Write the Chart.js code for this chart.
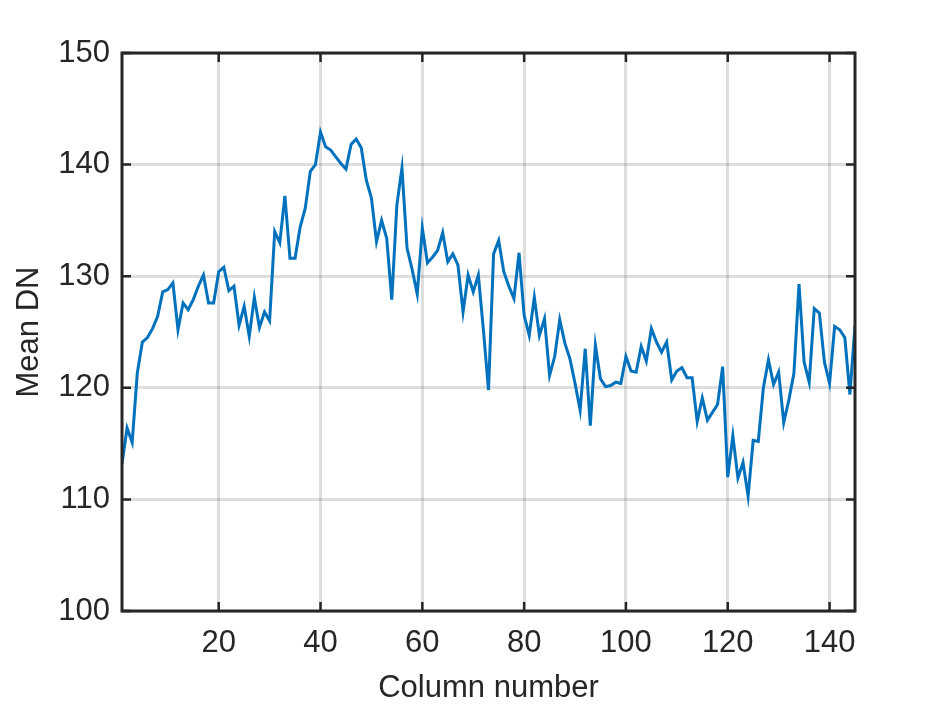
<!DOCTYPE html>
<html>
<head>
<meta charset="utf-8">
<script src="https://cdn.jsdelivr.net/npm/chart.js@4.4.1/dist/chart.umd.min.js"></script>
<style>
  body { margin: 0; background: #fff; }
  #wrap { width: 945px; height: 708px; }
</style>
</head>
<body>
<div id="wrap"><canvas id="myChart" width="945" height="708"></canvas></div>
<script>
"use strict";

// mean DN per column
const meanDN = [
  113.2, 116.4, 115.1, 121.3, 124.1, 124.5, 125.3, 126.4, 128.6, 128.8,
  129.4, 125.2, 127.6, 127.0, 127.9, 129.1, 130.1, 127.6, 127.6, 130.4,
  130.8, 128.7, 129.1, 125.6, 127.3, 124.6, 128.1, 125.4, 126.8, 126.0,
  134.0, 133.0, 137.2, 131.6, 131.6, 134.4, 136.1, 139.4, 140.0, 142.9,
  141.6, 141.3, 140.7, 140.1, 139.6, 141.8, 142.3, 141.5, 138.6, 137.0,
  133.1, 135.0, 133.4, 127.9, 136.4, 139.7, 132.5, 130.6, 128.4, 134.3,
  131.2, 131.7, 132.3, 133.9, 131.3, 132.0, 131.0, 126.8, 130.1, 128.6,
  130.1, 125.2, 119.8, 132.0, 133.2, 130.4, 129.1, 128.0, 132.1, 126.5,
  124.7, 128.1, 124.7, 126.2, 121.1, 122.8, 126.1, 124.0, 122.6, 120.4,
  118.0, 123.5, 116.6, 123.8, 120.8, 120.1, 120.2, 120.5, 120.4, 122.8,
  121.5, 121.4, 123.7, 122.4, 125.3, 124.1, 123.2, 124.1, 120.7, 121.5,
  121.8, 120.9, 120.9, 117.0, 119.1, 117.1, 117.8, 118.5, 121.9, 112.0,
  115.7, 111.9, 113.3, 110.3, 115.3, 115.2, 120.0, 122.5, 120.3, 121.4,
  116.9, 118.9, 121.3, 129.3, 122.3, 120.5, 127.1, 126.7, 122.3, 120.4,
  125.5, 125.2, 124.5, 119.4, 125.6
];
const columns = meanDN.map((v, i) => i + 1);

const xTicks = [20, 40, 60, 80, 100, 120, 140];
const yTicks = [100, 110, 120, 130, 140, 150];

const textColor = "#262626";
const fontFamily = "'Liberation Sans', Arial, Helvetica, sans-serif";

// matlab style box with inward ticks on all four sides
const boxAxes = {
  id: "boxAxes",
  afterDraw(chart) {
    const { ctx, chartArea: a, scales } = chart;
    const len = 9;
    ctx.save();
    ctx.strokeStyle = textColor;
    ctx.lineWidth = 2.5;
    ctx.beginPath();
    xTicks.forEach((t) => {
      const px = scales.x.getPixelForValue(t);
      ctx.moveTo(px, a.bottom); ctx.lineTo(px, a.bottom - len);
      ctx.moveTo(px, a.top); ctx.lineTo(px, a.top + len);
    });
    yTicks.forEach((t) => {
      const py = scales.y.getPixelForValue(t);
      ctx.moveTo(a.left, py); ctx.lineTo(a.left + len, py);
      ctx.moveTo(a.right, py); ctx.lineTo(a.right - len, py);
    });
    ctx.stroke();
    ctx.lineWidth = 3;
    ctx.strokeRect(a.left, a.top, a.right - a.left, a.bottom - a.top);
    ctx.restore();
  },
};

const ctx = document.getElementById("myChart").getContext("2d");
const myChart = new Chart(ctx, {
  type: "line",
  data: {
    datasets: [
      {
        data: columns.map((c, i) => ({ x: c, y: meanDN[i] })),
        borderColor: "#0072BD",
        borderWidth: 3,
        pointRadius: 0,
        tension: 0,
        fill: false,
      },
    ],
  },
  options: {
    responsive: false,
    animation: false,
    layout: { padding: { top: 53, right: 90, bottom: 0, left: 0 } },
    plugins: {
      legend: { display: false },
      tooltip: { enabled: false },
    },
    scales: {
      x: {
        type: "linear",
        min: 1,
        max: 145,
        afterBuildTicks: (s) => { s.ticks = xTicks.map((v) => ({ value: v })); },
        afterFit: (s) => { s.height = 97; },
        grid: { color: "rgba(0,0,0,0.13)", lineWidth: 3, drawTicks: false },
        border: { display: false },
        ticks: {
          color: textColor,
          padding: 14,
          maxRotation: 0,
          font: { family: fontFamily, size: 31 },
        },
        title: {
          display: true,
          text: "Column number",
          color: textColor,
          padding: { top: 0, bottom: 1 },
          font: { family: fontFamily, size: 31 },
        },
      },
      y: {
        min: 100,
        max: 150,
        afterBuildTicks: (s) => { s.ticks = yTicks.map((v) => ({ value: v })); },
        afterFit: (s) => { s.width = 122; },
        grid: { color: "rgba(0,0,0,0.13)", lineWidth: 3, drawTicks: false },
        border: { display: false },
        ticks: {
          color: textColor,
          padding: 12,
          font: { family: fontFamily, size: 31 },
        },
        title: {
          display: true,
          text: "Mean DN",
          color: textColor,
          padding: { top: 11, bottom: 0 },
          font: { family: fontFamily, size: 31 },
        },
      },
    },
  },
  plugins: [boxAxes],
});
</script>
</body>
</html>
